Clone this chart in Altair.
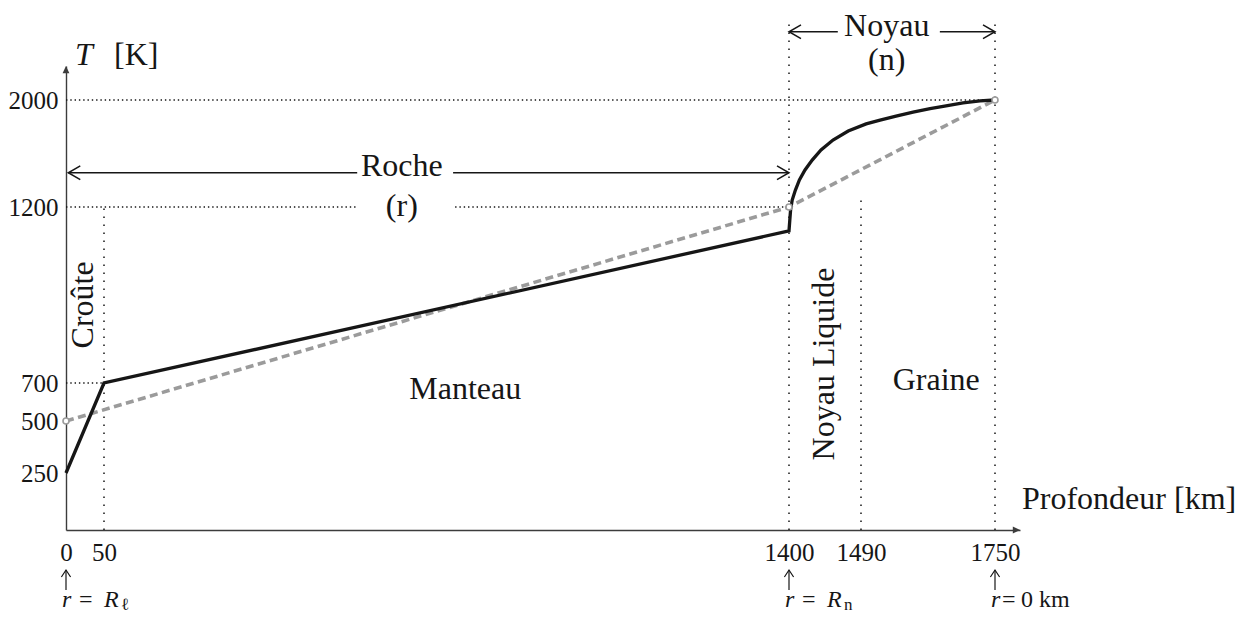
import altair as alt
import pandas as pd

SERIF = "Liberation Serif"
INK = "#161616"
AXIS = "#3c3c3c"
GREY = "#9b9b9b"

# ---------------- data ----------------
# temperature profile (solid black): depth [km], T [K]
profile_depth = [0, 50, 1400, 1401, 1402, 1404, 1408, 1413, 1420, 1429, 1440, 1455,
                 1474, 1500, 1527, 1558, 1591, 1624, 1655, 1688, 1721, 1750]
profile_temp = [250, 700, 1132, 1163, 1192, 1252, 1327, 1402, 1477, 1551, 1626, 1701,
                1768, 1821, 1850, 1880, 1910, 1936, 1957, 1978, 1993, 2000]
# simplified profile (grey dashed)
linear_depth = [0, 1400, 1750]
linear_temp = [500, 1200, 2000]

x_tick_values = [0, 50, 1400, 1490, 1750]
y_tick_values = [250, 500, 700, 1200, 2000]

# dotted guides
hguide_T = [2000, 1200, 1200, 700]
hguide_x0 = [0, 0, 742, 0]
hguide_x1 = [1750, 550, 1400, 50]
vguide_x = [50, 1400, 1490, 1750]
vguide_bottom = [0, 0, 0, 0]
vguide_top = [1200, 2597, 1250, 2597]

# bracket arrows (Roche / Noyau)
span_T = [1456, 1456, 2510, 2510]
span_x0 = [3, 738, 1400, 1643]
span_x1 = [549, 1400, 1461, 1750]
head_left_x = [3, 1400]
head_right_x = [1400, 1750]
head_T = [1456, 2510]

# text labels
region_text = ["Manteau", "Graine", "Roche", "(r)", "Noyau", "(n)"]
region_x = [762, 1636, 637, 637, 1540, 1540]
region_T = [616, 663, 1432, 1174, 2478, 2224]
vertical_text = ["Croûte", "Noyau Liquide"]
vertical_x = [22, 1444]
vertical_T = [922, 754]
marker_x = [0, 1400, 1750]

# ---------------- schematic (piecewise) scales ----------------
X_DOMAIN = [0, 50, 1400, 1490, 1750, 1800]
X_RANGE = [0, 38, 723, 795, 929, 954]
Y_DOMAIN = [0, 250, 500, 700, 1200, 2000, 2254]
Y_RANGE = [522, 465, 413, 375, 199, 92, 58]

xs = alt.Scale(domain=X_DOMAIN, range=X_RANGE, nice=False, zero=False)
ys = alt.Scale(domain=Y_DOMAIN, range=Y_RANGE, nice=False, zero=False)

xaxis = alt.Axis(values=x_tick_values, title=None, grid=False, ticks=False, tickSize=0,
                 domainColor=AXIS, domainWidth=1.4, labelFont=SERIF, labelFontSize=25,
                 labelColor=INK, labelPadding=10, labelFlush=False, labelOverlap=False,
                 labelAngle=0, format="d")
yaxis = alt.Axis(values=y_tick_values, title=None, grid=False, ticks=False, tickSize=0,
                 domainColor=AXIS, domainWidth=1.4, labelFont=SERIF, labelFontSize=25,
                 labelColor=INK, labelPadding=8, labelFlush=False, labelOverlap=False,
                 format="d")


def X(field="x"):
    return alt.X(f"{field}:Q", scale=xs, axis=xaxis)


def Y(field="T"):
    return alt.Y(f"{field}:Q", scale=ys, axis=yaxis)


layers = []

# dotted guides
layers.append(
    alt.Chart(pd.DataFrame({"x": hguide_x0, "x1": hguide_x1, "T": hguide_T}))
    .mark_rule(color=INK, strokeWidth=1.4, strokeDash=[1.4, 2.9])
    .encode(x=X("x"), x2="x1:Q", y=Y("T"))
)
layers.append(
    alt.Chart(pd.DataFrame({"x": vguide_x, "T": vguide_bottom, "T1": vguide_top}))
    .mark_rule(color=INK, strokeWidth=1.5, strokeDash=[1.6, 6.4])
    .encode(x=X("x"), y=Y("T"), y2="T1:Q")
)

# grey dashed simplified profile
lin_df = pd.DataFrame({"x": linear_depth, "T": linear_temp})
layers.append(
    alt.Chart(lin_df)
    .mark_line(color=GREY, strokeWidth=3.6, strokeDash=[8, 4.5])
    .encode(x=X(), y=Y())
)

# solid profile
layers.append(
    alt.Chart(pd.DataFrame({"x": profile_depth, "T": profile_temp}))
    .mark_line(color=INK, strokeWidth=3.3, strokeJoin="miter")
    .encode(x=X(), y=Y())
)

# open circles on grey profile
layers.append(
    alt.Chart(lin_df)
    .mark_point(shape="circle", size=36, filled=True, fill="white", stroke=GREY,
                strokeWidth=1.6, opacity=1)
    .encode(x=X(), y=Y())
)

# bracket arrows
layers.append(
    alt.Chart(pd.DataFrame({"x": span_x0, "x1": span_x1, "T": span_T}))
    .mark_rule(color=INK, strokeWidth=1.4)
    .encode(x=X("x"), x2="x1:Q", y=Y("T"))
)
layers.append(
    alt.Chart(pd.DataFrame({"x": head_left_x, "T": head_T}))
    .mark_point(shape="M4,-2.3 L0,0 L4,2.3", size=36, filled=False, color=INK,
                strokeWidth=1.5, opacity=1)
    .encode(x=X(), y=Y())
)
layers.append(
    alt.Chart(pd.DataFrame({"x": head_right_x, "T": head_T}))
    .mark_point(shape="M-4,-2.3 L0,0 L-4,2.3", size=36, filled=False, color=INK,
                strokeWidth=1.5, opacity=1)
    .encode(x=X(), y=Y())
)

# axis arrow heads
layers.append(
    alt.Chart(pd.DataFrame({"x": [X_DOMAIN[0]], "T": [Y_DOMAIN[-1]]}))
    .mark_point(shape="M0,0 L-1.7,3.6 L1.7,3.6 Z", size=16, filled=True, color=AXIS, opacity=1)
    .encode(x=X(), y=Y())
)
layers.append(
    alt.Chart(pd.DataFrame({"x": [X_DOMAIN[-1]], "T": [Y_DOMAIN[0]]}))
    .mark_point(shape="M0,0 L-3.6,-1.7 L-3.6,1.7 Z", size=16, filled=True, color=AXIS, opacity=1)
    .encode(x=X(), y=Y())
)

# small up arrows under the axis
mk = pd.DataFrame({"x": marker_x})
layers.append(
    alt.Chart(mk).mark_rule(color=INK, strokeWidth=1.2)
    .encode(x=X(), y=alt.value(562), y2=alt.value(582))
)
layers.append(
    alt.Chart(mk).mark_point(shape="M-2.3,3.5 L0,0 L2.3,3.5", size=16, filled=False,
                             color=INK, strokeWidth=1.2, opacity=1)
    .encode(x=X(), y=alt.value(562))
)

# region labels
layers.append(
    alt.Chart(pd.DataFrame({"x": region_x, "T": region_T, "label": region_text}))
    .mark_text(font=SERIF, fontSize=32, align="center", baseline="alphabetic", color=INK)
    .encode(x=X(), y=Y(), text="label:N")
)
layers.append(
    alt.Chart(pd.DataFrame({"x": vertical_x, "T": vertical_T, "label": vertical_text}))
    .mark_text(font=SERIF, fontSize=32, align="center", baseline="middle", angle=270, color=INK)
    .encode(x=X(), y=Y(), text="label:N")
)

# axis titles
layers.append(
    alt.Chart(pd.DataFrame({"x": [0], "T": [2261], "label": ["T"]}))
    .mark_text(font=SERIF, fontSize=32, fontStyle="italic", align="left",
               baseline="alphabetic", dx=9, color=INK)
    .encode(x=X(), y=Y(), text="label:N")
)
layers.append(
    alt.Chart(pd.DataFrame({"x": [0], "T": [2261], "label": ["[K]"]}))
    .mark_text(font=SERIF, fontSize=32, align="left", baseline="alphabetic", dx=48, color=INK)
    .encode(x=X(), y=Y(), text="label:N")
)
layers.append(
    alt.Chart(pd.DataFrame({"x": [X_DOMAIN[-1]], "T": [92], "label": ["Profondeur [km]"]}))
    .mark_text(font=SERIF, fontSize=32, align="left", baseline="alphabetic", dx=2, color=INK)
    .encode(x=X(), y=Y(), text="label:N")
)


# bottom labels r = R_l, r = R_n, r=0 km
def bottom(xvals, labels, dx, size=24, style="normal", dy=0):
    return (
        alt.Chart(pd.DataFrame({"x": xvals, "label": labels}))
        .mark_text(font=SERIF + ", DejaVu Serif", fontSize=size, fontStyle=style,
                   align="left", baseline="alphabetic", dx=dx, dy=dy, color=INK)
        .encode(x=X(), y=alt.value(599), text="label:N")
    )


layers.append(bottom(marker_x, ["r", "r", "r"], -4, style="italic"))
layers.append(bottom(marker_x[:2], ["=", "="], 13))
layers.append(bottom(marker_x[:2], ["R", "R"], 38, style="italic"))
layers.append(bottom(marker_x[:1], ["ℓ"], 55, size=17, dy=3))
layers.append(bottom(marker_x[1:2], ["n"], 55, size=17, dy=3))
layers.append(bottom(marker_x[2:], ["="], 7))
layers.append(bottom(marker_x[2:], ["0 km"], 26))

chart = (
    alt.layer(*layers)
    .properties(
        width=1180,
        height=522,
        padding={"left": 58, "top": 0, "right": 0, "bottom": 85},
        autosize=alt.AutoSizeParams(type="none"),
        background="white",
    )
    .configure_view(stroke=None)
)

chart.save("out.html", embed_options={"renderer": "svg", "actions": False})
